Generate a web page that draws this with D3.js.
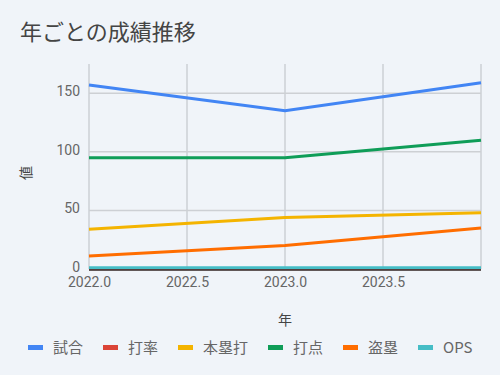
<!DOCTYPE html>
<html>
<head>
<meta charset="utf-8">
<script src="https://cdn.jsdelivr.net/npm/d3@7"></script>
<style>
  body { margin: 0; background: #f0f4f9; }
  text { font-family: Roboto, "Noto Sans CJK JP", sans-serif; }
</style>
</head>
<body>
<script>
// data
var years = [2022, 2023, 2024];
var seriesNames = ["試合", "打率", "本塁打", "打点", "盗塁", "OPS"];
var games = [157, 135, 159];
var avg = [0.3, 0.31, 0.32];
var homers = [34, 44, 48];
var rbi = [95, 95, 110];
var steals = [11, 20, 35];
var ops = [1.0, 1.01, 1.04];
var xTicks = [2022.0, 2022.5, 2023.0, 2023.5];
var yTicks = [0, 50, 100, 150];

var colors = ["#4285f4", "#db4437", "#f4b400", "#0f9d58", "#ff6d00", "#46bdc6"];
var allValues = [games, avg, homers, rbi, steals, ops];

var width = 500, height = 375;
var margin = {top: 64, right: 19, bottom: 106, left: 89};

var svg = d3.select("body").append("svg")
  .attr("width", width)
  .attr("height", height);

svg.append("rect").attr("width", width).attr("height", height).attr("fill", "#f0f4f9");

var x = d3.scaleLinear().domain([2022, 2024]).range([margin.left, width - margin.right]);
var y = d3.scaleLinear().domain([0, 175]).range([height - margin.bottom, margin.top]);

// title
svg.append("text")
  .attr("x", 20).attr("y", 40)
  .attr("font-size", "22px")
  .attr("fill", "#444")
  .style("font-family", "'Noto Sans CJK JP', sans-serif")
  .text("年ごとの成績推移");

// gridlines
svg.append("g").selectAll("line")
  .data(yTicks.slice(1))
  .enter().append("line")
  .attr("x1", margin.left).attr("x2", width - margin.right)
  .attr("y1", function(d) { return y(d); }).attr("y2", function(d) { return y(d); })
  .attr("stroke", "#cdd0d4").attr("stroke-width", 1.5);

svg.append("g").selectAll("line")
  .data(xTicks.concat([2024]))
  .enter().append("line")
  .attr("x1", function(d) { return x(d); }).attr("x2", function(d) { return x(d); })
  .attr("y1", margin.top).attr("y2", height - margin.bottom)
  .attr("stroke", "#cdd0d4").attr("stroke-width", 1.5);

// axes (labels only)
var xAxis = svg.append("g")
  .attr("transform", "translate(0," + (height - margin.bottom) + ")")
  .call(d3.axisBottom(x).tickValues(xTicks).tickFormat(d3.format(".1f")).tickSize(0).tickPadding(8));
xAxis.select(".domain").remove();
xAxis.selectAll("text").attr("font-size", "14px").attr("fill", "#666").style("font-family", "Roboto");

var yAxis = svg.append("g")
  .attr("transform", "translate(" + margin.left + ",-2)")
  .call(d3.axisLeft(y).tickValues(yTicks).tickSize(0).tickPadding(9));
yAxis.select(".domain").remove();
yAxis.selectAll("text").attr("font-size", "14px").attr("fill", "#666").style("font-family", "Roboto");

// lines
var line = d3.line()
  .x(function(d, i) { return x(years[i]); })
  .y(function(d) { return y(d); });

svg.append("g").selectAll("path")
  .data(allValues)
  .enter().append("path")
  .attr("d", line)
  .attr("fill", "none")
  .attr("stroke", function(d, i) { return colors[i]; })
  .attr("stroke-width", 3);

// baseline
svg.append("line")
  .attr("x1", margin.left).attr("x2", width - margin.right)
  .attr("y1", y(0) + 1).attr("y2", y(0) + 1)
  .attr("stroke", "#333").attr("stroke-width", 1.5);

// axis titles
svg.append("text")
  .attr("transform", "translate(31,173) rotate(-90)")
  .attr("text-anchor", "middle")
  .attr("font-size", "14px").attr("fill", "#444")
  .style("font-family", "'Noto Sans CJK JP', sans-serif")
  .text("値");

svg.append("text")
  .attr("x", x(2023)).attr("y", 325)
  .attr("text-anchor", "middle")
  .attr("font-size", "14px").attr("fill", "#444")
  .style("font-family", "'Noto Sans CJK JP', sans-serif")
  .text("年");

// legend
var legendX = [28, 103, 178, 268, 343, 418];
var legend = svg.append("g").selectAll("g")
  .data(seriesNames)
  .enter().append("g")
  .attr("transform", function(d, i) { return "translate(" + legendX[i] + ",348)"; });

legend.append("rect")
  .attr("x", 0).attr("y", -3)
  .attr("width", 15).attr("height", 5)
  .attr("fill", function(d, i) { return colors[i]; });

legend.append("text")
  .attr("x", 25).attr("y", 5)
  .attr("font-size", "15px").attr("fill", "#666")
  .style("font-family", "'Noto Sans CJK JP', Roboto, sans-serif")
  .text(function(d) { return d; });
</script>
</body>
</html>
